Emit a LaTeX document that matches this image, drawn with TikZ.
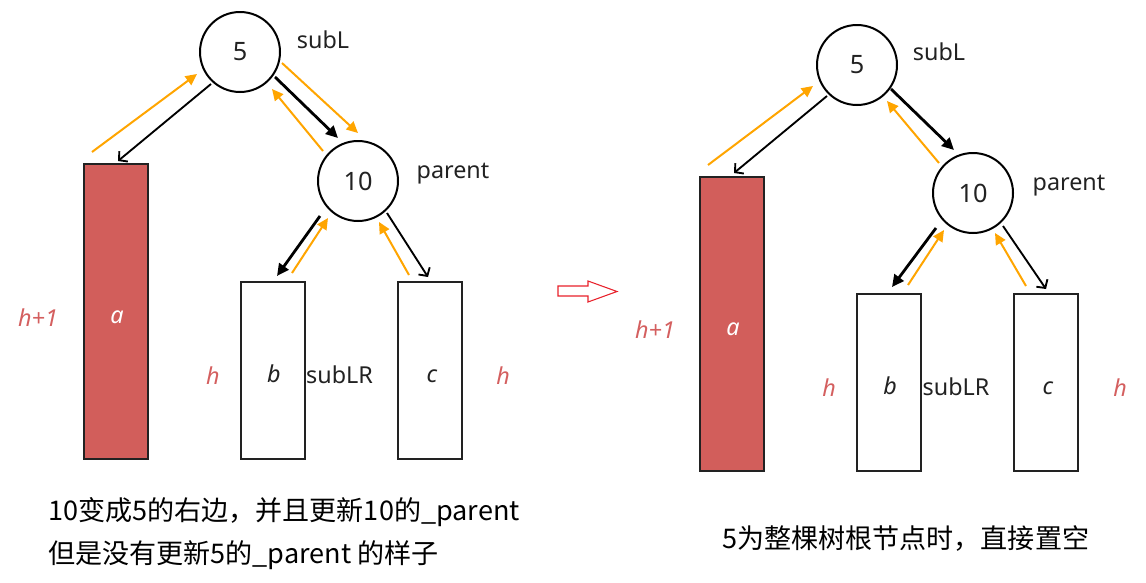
\documentclass[tikz,border=0pt]{standalone}
\usepackage{fontspec}
\setmainfont{Noto Sans}
\newfontfamily\cjk{Noto Sans CJK SC}
\usetikzlibrary{arrows.meta,calc}
\definecolor{orangeA}{HTML}{FFA500}
\definecolor{fillred}{HTML}{D25E5B}
\definecolor{labred}{HTML}{D45F5F}
\definecolor{ink}{HTML}{222222}
\definecolor{hollowred}{HTML}{E8212B}
\begin{document}
\begin{tikzpicture}[x=0.75pt,y=-0.75pt,
 every node/.style={font=\fontsize{17.5}{20}\selectfont},
 treenode/.style={circle,draw=black,line width=1.5pt,minimum size=60pt,inner sep=0pt,text=ink,font=\fontsize{19}{22}\selectfont},
 subtreebox/.style={draw=ink,line width=1.5pt,minimum width=48pt,inner sep=0pt},
 tallbox/.style={subtreebox,fill=fillred,minimum height=221.25pt},
 shortbox/.style={subtreebox,fill=white,minimum height=132.75pt},
 parentarrow/.style={orangeA,line width=1.5pt,-{Triangle[length=8.5pt,width=8pt]}},
 childarrow/.style={black,line width=2.1pt,-{Triangle[length=9pt,width=8.5pt]}},
 thinchildarrow/.style={black,line width=1.4pt,-{Straight Barb[length=4.5pt,width=10pt]}},
 namelabel/.style={text=ink,anchor=base},
 hlabel/.style={text=labred,anchor=base,font=\fontsize{17.5}{20}\selectfont\itshape},
 leaflabel/.style={text=ink,anchor=base,font=\fontsize{17.5}{20}\selectfont\itshape},
 captext/.style={anchor=base west,font=\cjk\fontsize{20.3}{24}\selectfont,text=black,inner sep=0pt}
]
\fill[white] (0,0) rectangle (1146,582);
\useasboundingbox (0,0) rectangle (1146,582);

% ---------- left tree ----------
\node[treenode] (L5) at (240,52) {5};
\node[treenode] (L10) at (358,181) {10};
\node[tallbox] (La) at (116,311.5) {};
\node[shortbox] (Lb) at (272.5,370.5) {};
\node[shortbox] (Lc) at (430,370.5) {};

\node[namelabel] (LsubL) at (323,48) {subL};
\node[namelabel] (Lparent) at (453,178) {parent};
\node[hlabel] (Lh1) at (38,326) {h+1};
\node[leaflabel,text=white] (Lat) at (117,323) {a};
\node[hlabel] (Lh2) at (213,384) {h};
\node[leaflabel] (Lbt) at (274,382) {b};
\node[namelabel] (LsubLR) at (339.5,383) {subLR};
\node[leaflabel] (Lct) at (432,382) {c};
\node[hlabel] (Lh3) at (503,384) {h};

\draw[parentarrow] ($(La.north)+(-24,-11)$) -- ($(L5)+(-43,22)$);
\draw[thinchildarrow] ($(L5)+(-29,32)$) -- ($(La.north)+(2,-2)$);
\draw[childarrow] ($(L5)+(35,25)$) -- ($(L10)+(-20,-43)$);
\draw[parentarrow] ($(L5)+(42,11)$) -- ($(L10)+(0,-48)$);
\draw[parentarrow] ($(L10)+(-35,-30)$) -- ($(L5)+(32,37)$);
\draw[childarrow] ($(L10)+(-38,35)$) -- ($(Lb.north)+(4.5,-5)$);
\draw[parentarrow] ($(Lb.north)+(19.5,-8)$) -- ($(L10)+(-30,37)$);
\draw[thinchildarrow] ($(L10)+(29,32)$) -- ($(Lc.north)+(-2,-4)$);
\draw[parentarrow] ($(Lc.north)+(-21,-6)$) -- ($(L10)+(21,41)$);

% ---------- hollow transition arrow ----------
\draw[hollowred,line width=0.8pt] (558,286) -- (588,286) -- (588,281) -- (617,291.5) -- (588,302) -- (588,296) -- (558,296) -- cycle;

% ---------- right tree ----------
\node[treenode] (R5) at (857,65) {5};
\node[treenode] (R10) at (973,193) {10};
\node[tallbox,minimum height=220.5pt] (Ra) at (732,324) {};
\node[shortbox] (Rb) at (889,382.5) {};
\node[shortbox] (Rc) at (1046,382.5) {};

\node[namelabel] (RsubL) at (939,60.5) {subL};
\node[namelabel] (Rparent) at (1069,190.5) {parent};
\node[hlabel] (Rh1) at (655,338.5) {h+1};
\node[leaflabel,text=white] (Rat) at (733,335.5) {a};
\node[hlabel] (Rh2) at (829,396.5) {h};
\node[leaflabel] (Rbt) at (890,394.5) {b};
\node[namelabel] (RsubLR) at (956,395.5) {subLR};
\node[leaflabel] (Rct) at (1048,394.5) {c};
\node[hlabel] (Rh3) at (1120,396.5) {h};

\draw[parentarrow] ($(Ra.north)+(-24,-11)$) -- ($(R5)+(-44,21)$);
\draw[thinchildarrow] ($(R5)+(-30,31)$) -- ($(Ra.north)+(2,-3)$);
\draw[childarrow] ($(R5)+(34,24)$) -- ($(R10)+(-19,-43)$);
\draw[parentarrow] ($(R10)+(-34,-30)$) -- ($(R5)+(30,36)$);
\draw[childarrow] ($(R10)+(-37,35)$) -- ($(Rb.north)+(3,-6)$);
\draw[parentarrow] ($(Rb.north)+(19,-8)$) -- ($(R10)+(-29,37)$);
\draw[thinchildarrow] ($(R10)+(30,33)$) -- ($(Rc.north)+(0,-4)$);
\draw[parentarrow] ($(Rc.north)+(-20,-7)$) -- ($(R10)+(22,40)$);

% ---------- captions ----------
\node[captext] (cap1) at (48,520) {10变成5的右边，并且更新10的\_parent};
\node[captext] (cap2) at (48,563) {但是没有更新5的\_parent 的样子};
\node[captext] (cap3) at (722,548) {5为整棵树根节点时，直接置空};
\end{tikzpicture}
\end{document}
